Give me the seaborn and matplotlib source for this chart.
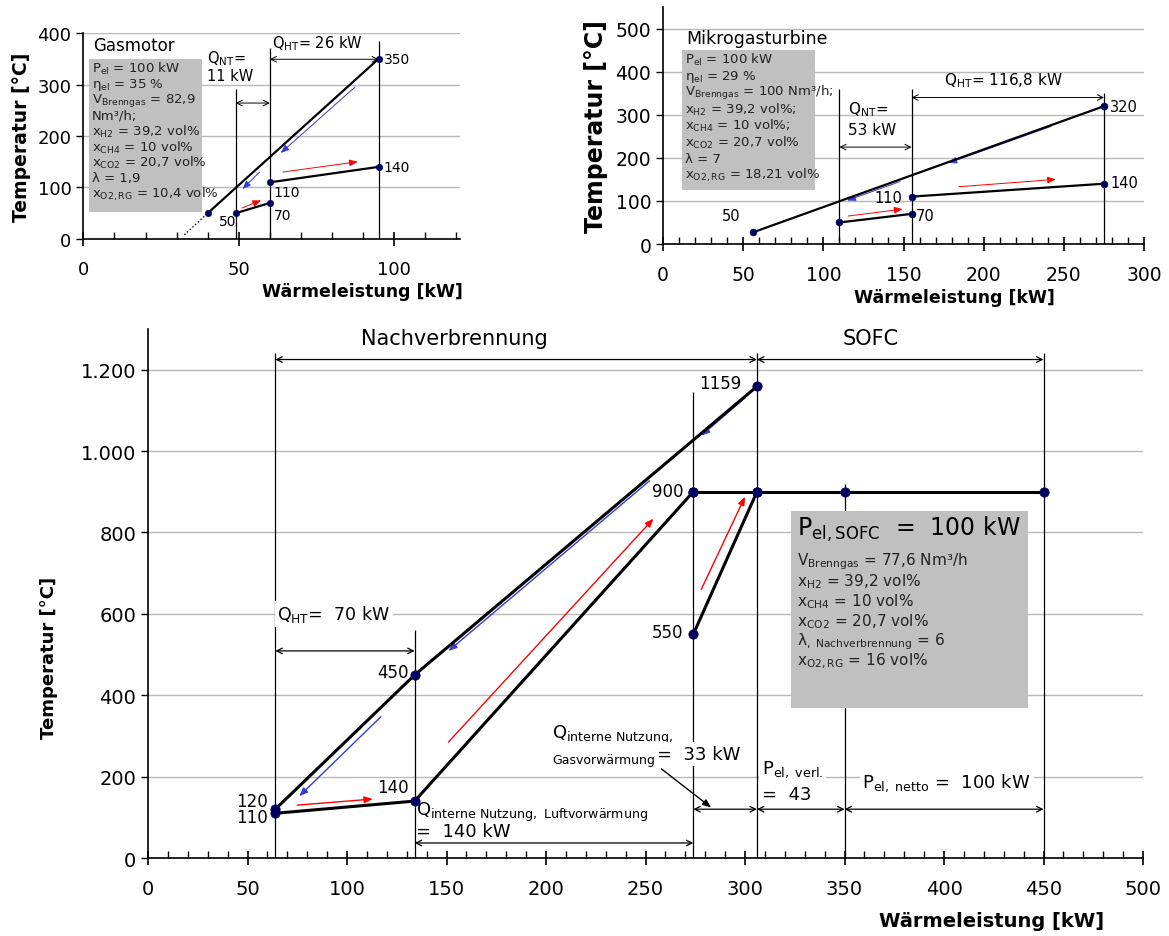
import numpy as np
import pandas as pd
import seaborn as sns
import matplotlib.pyplot as plt
from matplotlib.ticker import MultipleLocator, FuncFormatter

# --- Gasmotor ---
gm_rg_x = [40, 95]
gm_rg_y = [50, 350]
gm_nt_x = [49, 60]
gm_nt_y = [50, 70]
gm_ht_x = [60, 95]
gm_ht_y = [110, 140]
gm_info = ["P$_{el}$ = 100 kW", "η$_{el}$ = 35 %", "V$_{Brenngas}$ = 82,9", "Nm³/h;",
           "x$_{H2}$ = 39,2 vol%", "x$_{CH4}$ = 10 vol%", "x$_{CO2}$ = 20,7 vol%",
           "λ = 1,9", "x$_{O2,RG}$ = 10,4 vol%"]

# --- Mikrogasturbine ---
mgt_rg_x = [56, 275]
mgt_rg_y = [27, 320]
mgt_nt_x = [110, 155]
mgt_nt_y = [50, 70]
mgt_ht_x = [155, 275]
mgt_ht_y = [110, 140]
mgt_info = ["P$_{el}$ = 100 kW", "η$_{el}$ = 29 %", "V$_{Brenngas}$ = 100 Nm³/h;",
            "x$_{H2}$ = 39,2 vol%;", "x$_{CH4}$ = 10 vol%;", "x$_{CO2}$ = 20,7 vol%",
            "λ = 7", "x$_{O2,RG}$ = 18,21 vol%"]

# --- SOFC ---
sofc_rg_x = [64, 134, 306]
sofc_rg_y = [120, 450, 1159]
sofc_luft_x = [64, 134, 274]
sofc_luft_y = [110, 140, 900]
sofc_gas_x = [274, 306]
sofc_gas_y = [550, 900]
sofc_stack_x = [274, 306, 350, 450]
sofc_stack_y = [900, 900, 900, 900]
sofc_info = ["V$_{Brenngas}$ = 77,6 Nm³/h", "x$_{H2}$ = 39,2 vol%", "x$_{CH4}$ = 10 vol%",
             "x$_{CO2}$ = 20,7 vol%", "λ$_{,\\ Nachverbrennung}$ = 6", "x$_{O2,RG}$ = 16 vol%"]

sns.set_style("white")
plt.rcParams['font.family'] = ['DejaVu Sans']
plt.rcParams['mathtext.default'] = 'regular'
for k in ['text.color', 'axes.labelcolor', 'xtick.color', 'ytick.color']:
    plt.rcParams[k] = 'black'

PT = '#00005e'
BLUE = '#3a3ad0'
GRID = '#b8b8b8'

fig = plt.figure(figsize=(11.69, 9.37), dpi=100)
ax1 = fig.add_axes([0.0713, 0.7439, 0.3225, 0.2198])
ax2 = fig.add_axes([0.5672, 0.7385, 0.4115, 0.2529])
ax3 = fig.add_axes([0.1266, 0.0832, 0.8512, 0.5646])


def curve(ax, xs, ys, lw, ms):
    sns.lineplot(x=xs, y=ys, sort=False, estimator=None, color='black', lw=lw, ax=ax, zorder=4)
    sns.scatterplot(x=xs, y=ys, color=PT, s=ms, edgecolor=PT, ax=ax, zorder=5)


def dim(ax, x0, x1, y, lw=0.9):
    ax.annotate('', xy=(x1, y), xytext=(x0, y),
                arrowprops=dict(arrowstyle='<->', color='black', lw=lw,
                                shrinkA=0, shrinkB=0), annotation_clip=False)


def flow(ax, p0, p1, color, lw=1.0):
    ax.annotate('', xy=p1, xytext=p0,
                arrowprops=dict(arrowstyle='-|>,head_length=0.5,head_width=0.2',
                                color=color, lw=lw, shrinkA=0, shrinkB=0))


def style(ax, fs, major_x, xmax, ymax, ystep):
    ax.set_xlim(0, xmax)
    ax.set_ylim(0, ymax)
    ax.xaxis.set_major_locator(MultipleLocator(major_x))
    ax.xaxis.set_minor_locator(MultipleLocator(10))
    ax.yaxis.set_major_locator(MultipleLocator(ystep))
    ax.yaxis.grid(True, color=GRID, lw=1)
    ax.xaxis.grid(False)
    ax.set_axisbelow(True)
    for s in ['top', 'right']:
        ax.spines[s].set_visible(False)
    for s in ['left', 'bottom']:
        ax.spines[s].set_color('black')
        ax.spines[s].set_linewidth(1.2)
    ax.tick_params(axis='x', which='both', bottom=True)
    ax.tick_params(axis='y', which='major', left=True)
    ax.tick_params(axis='x', which='major', direction='inout', length=10, width=1.2,
                   labelsize=fs, pad=10)
    ax.tick_params(axis='x', which='minor', direction='in', length=5, width=1)
    ax.tick_params(axis='y', which='major', direction='out', length=5, width=1, labelsize=fs)


# ---------------- Gasmotor ----------------
style(ax1, 13, 50, 121.3, 400, 100)
ax1.vlines([49, 60, 95], 0, [292, 371, 384], color='black', lw=0.9, zorder=3)
ax1.plot([32.5, 40], [8, 50], ls=':', color='black', lw=1)
curve(ax1, gm_rg_x, gm_rg_y, 1.6, 22)
curve(ax1, gm_nt_x, gm_nt_y, 1.6, 22)
curve(ax1, gm_ht_x, gm_ht_y, 1.6, 22)
ax1.add_patch(plt.Rectangle((1.8, 53), 36.4, 297, fc='#c0c0c0', ec='none', zorder=2))
ax1.text(3, 376, "Gasmotor", fontsize=12, va='center')
for i, t in enumerate(gm_info):
    ax1.text(2.7, 332 - i * 30.5, t, fontsize=9.5, va='center', zorder=3, color='#222222')
ax1.text(39.7, 353, "Q$_{NT}$=", fontsize=10.5, va='center')
ax1.text(39.7, 318, "11 kW", fontsize=10.5, va='center')
ax1.text(60.6, 382, "Q$_{HT}$= 26 kW", fontsize=10.5, va='center')
dim(ax1, 49, 60, 264, 0.7)
dim(ax1, 60, 95, 349, 0.7)
for x, y, t in [(96.6, 349, "350"), (96.6, 139, "140"), (61.2, 92, "110"),
                (61.2, 47, "70"), (43.5, 34, "50")]:
    ax1.text(x, y, t, fontsize=10, va='center')
flow(ax1, (87.4, 295), (63.5, 167), BLUE, 0.7)
flow(ax1, (56.7, 130), (51.2, 97), BLUE, 0.7)
flow(ax1, (64.2, 130), (88.3, 150), 'red', 0.7)
flow(ax1, (51, 60), (57.2, 75), 'red', 0.7)
ax1.set_ylabel("Temperatur [°C]", fontsize=13.5, fontweight='bold')
ax1.yaxis.set_label_coords(-0.14, 0.5)
ax1.set_xlabel("Wärmeleistung [kW]", fontsize=12.5, fontweight='bold')
ax1.xaxis.set_label_coords(0.74, -0.21)

# ---------------- Mikrogasturbine ----------------
style(ax2, 13.5, 50, 300, 550, 100)
ax2.set_yticks(range(0, 501, 100))
ax2.vlines([110, 155, 275], 0, [359, 359, 351], color='black', lw=0.9, zorder=3)
curve(ax2, mgt_rg_x, mgt_rg_y, 1.6, 25)
curve(ax2, mgt_nt_x, mgt_nt_y, 1.6, 25)
curve(ax2, mgt_ht_x, mgt_ht_y, 1.6, 25)
ax2.add_patch(plt.Rectangle((11.7, 126), 82.9, 325, fc='#c0c0c0', ec='none', zorder=2))
ax2.text(14.3, 478, "Mikrogasturbine", fontsize=12.5, va='center')
for i, t in enumerate(mgt_info):
    ax2.text(13.6, 429 - i * 38.3, t, fontsize=9.5, va='center', zorder=3, color='#222222')
ax2.text(115.5, 314, "Q$_{NT}$=", fontsize=11, va='center')
ax2.text(115.5, 266, "53 kW", fontsize=11, va='center')
ax2.text(175, 381, "Q$_{HT}$= 116,8 kW", fontsize=11, va='center')
dim(ax2, 110, 155, 225, 0.7)
dim(ax2, 155, 275, 340, 0.7)
for x, y, t, ha in [(279, 320, "320", 'left'), (279, 142, "140", 'left'),
                    (149, 108, "110", 'right'), (157.6, 67, "70", 'left'),
                    (36.5, 67, "50", 'left')]:
    ax2.text(x, y, t, fontsize=10.5, va='center', ha=ha)
flow(ax2, (242, 273), (178, 188), BLUE, 0.7)
flow(ax2, (147.8, 145), (114.8, 101), BLUE, 0.7)
flow(ax2, (184.5, 133), (245, 150), 'red', 0.7)
flow(ax2, (115.5, 65), (149.4, 81), 'red', 0.7)
ax2.set_ylabel("Temperatur [°C]", fontsize=17, fontweight='bold')
ax2.yaxis.set_label_coords(-0.115, 0.5)
ax2.set_xlabel("Wärmeleistung [kW]", fontsize=12.5, fontweight='bold')
ax2.xaxis.set_label_coords(0.605, -0.185)

# ---------------- SOFC ----------------
style(ax3, 14, 50, 500, 1300, 200)
ax3.set_yticks(range(0, 1201, 200))
ax3.yaxis.set_major_formatter(FuncFormatter(lambda v, p: f"{int(v):,}".replace(",", ".")))
ax3.vlines([64, 134, 274, 306, 350, 450], 0, [1240, 560, 1146, 1240, 920, 1240],
           color='black', lw=0.9, zorder=3)
curve(ax3, sofc_rg_x, sofc_rg_y, 2.2, 45)
curve(ax3, sofc_luft_x, sofc_luft_y, 2.2, 45)
curve(ax3, sofc_gas_x, sofc_gas_y, 2.2, 45)
curve(ax3, sofc_stack_x, sofc_stack_y, 2.2, 45)

ax3.add_patch(plt.Rectangle((323, 369), 119, 484, fc='#c0c0c0', ec='none', zorder=6))
ax3.text(326, 809, "P$_{el,SOFC}$  =  100 kW", fontsize=17, va='center', zorder=7)
for i, t in enumerate(sofc_info):
    ax3.text(326, 730 - i * 49, t, fontsize=11, va='center', zorder=7, color='#222222')

dim(ax3, 64, 306, 1225)
dim(ax3, 306, 450, 1225)
ax3.text(154, 1279, "Nachverbrennung", fontsize=15, ha='center', va='center')
ax3.text(363, 1279, "SOFC", fontsize=15, ha='center', va='center')

wbox = dict(fc='white', ec='none', pad=2)
ax3.text(65, 600, "Q$_{HT}$=  70 kW", fontsize=12.5, va='center', bbox=wbox, zorder=3)
dim(ax3, 64, 134, 509)
ax3.text(134.5, 115, "Q$_{interne\\ Nutzung,\\ Luftvorwärmung}$", fontsize=13, va='center')
ax3.text(134.5, 66, "=  140 kW", fontsize=13, va='center')
dim(ax3, 134, 274, 37)
ax3.text(203, 305, "Q$_{interne\\ Nutzung,}$", fontsize=13, va='center')
ax3.text(203, 243, "Gasvorwärmung", fontsize=9, va='center')
ax3.text(256, 256, "=  33 kW", fontsize=13, va='center', bbox=wbox, zorder=4)
dim(ax3, 274, 306, 120)
ax3.annotate('', xy=(283, 124), xytext=(258, 219),
             arrowprops=dict(arrowstyle='-|>,head_length=0.5,head_width=0.2',
                             color='black', lw=1, shrinkA=0, shrinkB=0))
ax3.text(308.5, 219, "P$_{el,\\ verl.}$", fontsize=13, va='center', bbox=wbox, zorder=4)
ax3.text(308.5, 157, "=  43", fontsize=13, va='center')
dim(ax3, 306, 350, 120)
ax3.text(359, 187, "P$_{el,\\ netto}$ =  100 kW", fontsize=13, va='center', bbox=wbox, zorder=4)
dim(ax3, 350, 450, 120)

for x, y, t in [(298, 1168, "1159"), (269, 902, "900"), (269, 556, "550"),
                (131, 457, "450"), (131, 175, "140"), (60, 140, "120"), (60, 100, "110")]:
    ax3.text(x, y, t, fontsize=12, ha='right', va='center')

flow(ax3, (300, 1131), (278, 1038), BLUE)
flow(ax3, (252, 927), (151, 509), BLUE)
flow(ax3, (117, 347), (76, 152), BLUE)
flow(ax3, (75, 130), (113, 145), 'red')
flow(ax3, (151, 285), (254, 834), 'red')
flow(ax3, (278, 660), (300, 888), 'red')

ax3.set_ylabel("Temperatur [°C]", fontsize=13, fontweight='bold')
ax3.yaxis.set_label_coords(-0.09, 0.38)
ax3.set_xlabel("Wärmeleistung [kW]", fontsize=14, fontweight='bold')
ax3.xaxis.set_label_coords(0.848, -0.1)

fig.savefig("out.png", dpi=100)
plt.close(fig)
